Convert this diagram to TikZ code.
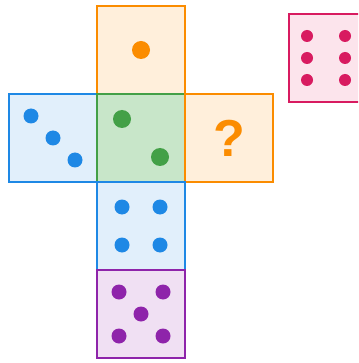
\documentclass[tikz,border=0pt]{standalone}
\usepackage{fontspec}
\newfontfamily\markfont{Liberation Sans}
\usetikzlibrary{positioning}
\definecolor{OrangeLine}{HTML}{FB8C00}
\definecolor{OrangeFill}{HTML}{FFEFDB}
\definecolor{BlueLine}{HTML}{1E88E5}
\definecolor{BlueFill}{HTML}{E1EFFB}
\definecolor{GreenLine}{HTML}{43A047}
\definecolor{GreenFill}{HTML}{C8E6C9}
\definecolor{PurpleLine}{HTML}{8E24AA}
\definecolor{PurpleFill}{HTML}{F0E0F3}
\definecolor{PinkLine}{HTML}{D81B60}
\definecolor{PinkFill}{HTML}{FCE4EC}
\tikzset{
  face/.style={rectangle, draw=#1Line, fill=#1Fill, line width=2.5pt,
    minimum size=88pt, inner sep=0pt, outer sep=0pt},
}
\begin{document}
\begin{tikzpicture}[x=1pt, y=-1pt]
  \clip (0,0) rectangle (358,363);
  % faces of the net
  \node[face=Orange] (top) at (141,50) {};
  \node[face=Blue] (left) at (53,138) {};
  \node[face=Green, right=0pt of left] (front) {};
  \node[face=Orange, right=0pt of front] (right) {\fontsize{52}{52}\selectfont\markfont\bfseries\color{OrangeLine}?};
  \node[face=Blue, below=0pt of front] (four) {};
  \node[face=Purple, below=0pt of four] (five) {};
  % the die on the side
  \node[face=Pink] (six) at (333,58) {};
  % pips
  \fill[OrangeLine] (top.center) circle (9);
  \foreach \d in {-19,19}
    \fill[GreenLine] ([shift={(\d,\d)}]front.center) circle (9);
  \foreach \d in {-22,0,22}
    \fill[BlueLine] ([shift={(\d,\d)}]left.center) circle (7.5);
  \foreach \dx in {-19,19}
    \foreach \dy in {-19,19}
      \fill[BlueLine] ([shift={(\dx,\dy)}]four.center) circle (7.5);
  \foreach \dx/\dy in {-22/-22,22/-22,0/0,-22/22,22/22}
    \fill[PurpleLine] ([shift={(\dx,\dy)}]five.center) circle (7.5);
  \foreach \dx in {-26,12}
    \foreach \dy in {-22,0,22}
      \fill[PinkLine] ([shift={(\dx,\dy)}]six.center) circle (6);
\end{tikzpicture}
\end{document}
